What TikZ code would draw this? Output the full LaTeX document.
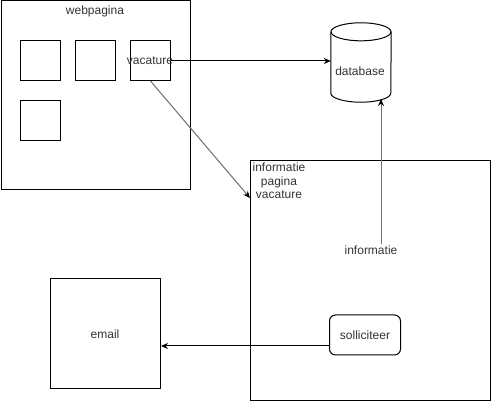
\documentclass[tikz,border=0pt]{standalone}
\usepackage{fontspec}
\setmainfont{Liberation Sans}
\usetikzlibrary{arrows.meta,positioning,calc}
\definecolor{linkgrey}{RGB}{110,110,110}
\tikzset{
  pbox/.style={rectangle, draw=black, line width=1pt, inner sep=0pt, anchor=north west},
  tile/.style={pbox, minimum size=40pt},
  ptext/.style={font=\fontsize{12pt}{13.5pt}\selectfont, text=black!80, inner sep=1pt},
  dbase/.style={rectangle, minimum width=60pt, minimum height=79pt, inner sep=0pt},
  dbline/.style={draw=black, line width=1pt},
  knop/.style={rectangle, rounded corners=6pt, draw=black, line width=1pt,
               minimum width=71pt, minimum height=40pt, inner sep=0pt},
  flow/.style={-{Stealth[length=7pt, width=6pt]}, line width=1pt, black},
  flowgrey/.style={-{Stealth[length=7pt, width=6pt, black]}, line width=1pt, linkgrey},
}
\begin{document}
\begin{tikzpicture}[x=1pt, y=-1pt]
  \useasboundingbox (0,0) rectangle (491,401);
  % webpagina
  \node[pbox, minimum size=189pt] (web) at (0.5,0.5) {};
  \node[ptext] (webtitle) at (95,11) {webpagina};
  \node[tile] (tileA) at (20,40) {};
  \node[tile] (tileB) at (75,40) {};
  \node[tile] (tileC) at (130,40) {};
  \node[tile] (tileD) at (20,100) {};
  \node[ptext] (vac) at (150,61) {vacature};
  % database
  \node[dbase] (db) at (361,62.5) {};
  \draw[dbline] ([yshift=-9pt]db.north) ellipse [x radius=30, y radius=9];
  \draw[dbline] ([yshift=-9pt]db.north west) -- ([yshift=9pt]db.south west)
    arc[start angle=180, end angle=0, x radius=30, y radius=9]
    -- ([yshift=-9pt]db.north east);
  \node[ptext] (dbtext) at (360,71) {database};
  % informatie pagina
  \node[pbox, minimum size=240pt] (infopg) at (250,160) {};
  \node[ptext, align=center] (infotitle) at (279,181) {informatie\\pagina\\vacature};
  \node[ptext] (infotxt) at (371,250) {informatie};
  \node[knop, ptext] (soll) at (365,335) {solliciteer};
  % email
  \node[pbox, minimum width=110pt, minimum height=110pt] (email) at (50,278) {};
  \node[ptext] (emailtext) at (105,334) {email};
  \coordinate (entry) at (250,198);
  \coordinate (dbin) at (381,99);
  % connectors
  \draw[flow] (tileC.east |- vac) -- (db.west |- vac);
  \draw[flowgrey] (tileC.south) -- (entry);
  \draw[flowgrey] (infotxt.north -| dbin) -- (dbin);
  \draw[flow] ([yshift=-11pt]soll.west) -- ([yshift=-11pt]soll.west -| email.east);
\end{tikzpicture}
\end{document}
